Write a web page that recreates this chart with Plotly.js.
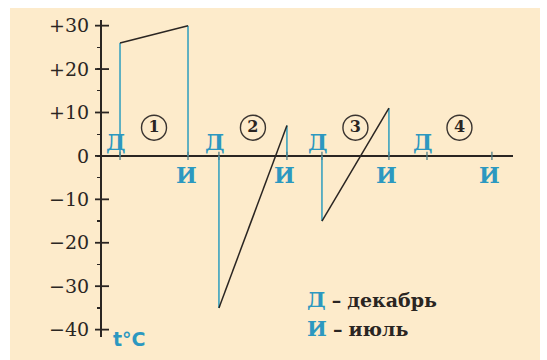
<!DOCTYPE html>
<html>
<head>
<meta charset="utf-8">
<script src="https://cdn.plot.ly/plotly-3.0.1.min.js"></script>
<style>
  html, body { margin: 0; padding: 0; background: #ffffff; }
  #chart { position: absolute; left: 10px; top: 8px; width: 530px; height: 352px; }
</style>
</head>
<body>
<div id="chart"></div>
<script>
// ---- data ----
const stations = ['1', '2', '3', '4'];
const xDec = [0.53, 3.44, 6.47, 9.56];      // position of December mark (Д)
const xJul = [2.53, 5.44, 8.44, 11.47];     // position of July mark (И)
const tDec = [26, -35, -15, 0];             // December temperature, °C
const tJul = [30, 7, 11, 0];                // July temperature, °C
const tickVals = [30, 20, 10, 0, -10, -20, -30, -40];
const tickText = ['+30', '+20', '+10', '0', '−10', '−20', '−30', '−40'];
const decLabel = 'Д';
const julLabel = 'И';
const legendLines = ['декабрь', 'июль'];

// ---- style ----
const TEAL = '#3aa2bf';
const TEAL_TXT = '#2c98c0';
const DARK = '#2a2522';
const BG = '#fdebcb';
const X_RANGE = [0, 12.09];

const traces = [];
for (let i = 0; i < stations.length; i++) {
  traces.push({
    type: 'scatter', mode: 'lines',
    x: [xDec[i], xDec[i], null, xJul[i], xJul[i]],
    y: [0, tDec[i], null, 0, tJul[i]],
    line: { color: TEAL, width: 1.6 },
    hoverinfo: 'skip', showlegend: false
  });
  traces.push({
    type: 'scatter', mode: 'lines',
    x: [xDec[i], xJul[i]],
    y: [tDec[i], tJul[i]],
    line: { color: DARK, width: 1.5 },
    hoverinfo: 'skip', showlegend: false
  });
}
// small marks on the axis
traces.push({
  type: 'scatter', mode: 'markers',
  x: xDec.concat(xJul), y: xDec.concat(xJul).map(() => 0),
  marker: { symbol: 'line-ns-open', size: 6, color: '#4f7f88', line: { color: '#4f7f88', width: 1.3 } },
  hoverinfo: 'skip', showlegend: false
});
// major ticks crossing the vertical axis
traces.push({
  type: 'scatter', mode: 'markers', cliponaxis: false,
  x: tickVals.map(() => X_RANGE[0]), y: tickVals,
  marker: { symbol: 'line-ew-open', size: 10, color: DARK, line: { color: DARK, width: 1.8 } },
  hoverinfo: 'skip', showlegend: false
});
// circled station numbers
traces.push({
  type: 'scatter', mode: 'markers+text',
  x: xDec.map((v, i) => (v + xJul[i]) / 2),
  y: stations.map(() => 6.5),
  text: stations,
  textposition: 'middle center',
  textfont: { family: 'DejaVu Serif', size: 16, color: DARK, weight: 'bold' },
  marker: { symbol: 'circle-open', size: 25, color: '#3a3430', line: { color: '#3a3430', width: 1.4 } },
  hoverinfo: 'skip', showlegend: false
});

const annotations = [];
for (let i = 0; i < stations.length; i++) {
  annotations.push({
    x: xDec[i], y: 0, xref: 'x', yref: 'y', text: '<b>' + decLabel + '</b>',
    showarrow: false, xshift: -4, yshift: 14,
    font: { family: 'DejaVu Serif', size: 22, color: TEAL_TXT }
  });
  annotations.push({
    x: xJul[i], y: 0, xref: 'x', yref: 'y', text: '<b>' + julLabel + '</b>',
    showarrow: false, xshift: -2, yshift: -19,
    font: { family: 'DejaVu Serif', size: 22, color: TEAL_TXT }
  });
}
annotations.push({
  x: 0.494, y: 0.117, xref: 'paper', yref: 'paper', xanchor: 'left', yanchor: 'middle',
  text: '<span style="color:' + TEAL_TXT + ';font-size:21px"><b>' + decLabel + '</b></span> <b>–</b> <b>' + legendLines[0] + '</b>',
  showarrow: false, font: { family: 'DejaVu Serif', size: 19, color: DARK }
});
annotations.push({
  x: 0.494, y: 0.028, xref: 'paper', yref: 'paper', xanchor: 'left', yanchor: 'middle',
  text: '<span style="color:' + TEAL_TXT + ';font-size:21px"><b>' + julLabel + '</b></span> <b>–</b> <b>' + legendLines[1] + '</b>',
  showarrow: false, font: { family: 'DejaVu Serif', size: 19, color: DARK }
});
annotations.push({
  x: 0.022, y: -0.005, xref: 'paper', yref: 'paper', xanchor: 'left', yanchor: 'middle',
  text: '<b>t°C</b>', showarrow: false,
  font: { family: 'DejaVu Sans', size: 19, color: TEAL_TXT }
});

const layout = {
  width: 530, height: 352,
  margin: { l: 92, r: 27, t: 12, b: 23, pad: 0 },
  paper_bgcolor: BG, plot_bgcolor: BG,
  showlegend: false,
  xaxis: { range: X_RANGE, visible: false, fixedrange: true },
  yaxis: {
    range: [-41.7, 31.3], fixedrange: true, showgrid: false,
    tickmode: 'array', tickvals: tickVals, ticktext: tickText,
    ticks: '', ticklen: 5,
    ticklabelstandoff: 7,
    minor: { dtick: 5, tick0: 0, ticks: 'outside', ticklen: 3, tickwidth: 1.3, tickcolor: DARK },
    tickfont: { family: 'DejaVu Serif', size: 19, color: '#2b2623' },
    showline: true, linecolor: DARK, linewidth: 2,
    zeroline: true, zerolinecolor: DARK, zerolinewidth: 2
  },
  annotations: annotations
};

Plotly.newPlot('chart', traces, layout, { displayModeBar: false, staticPlot: true });
</script>
</body>
</html>
